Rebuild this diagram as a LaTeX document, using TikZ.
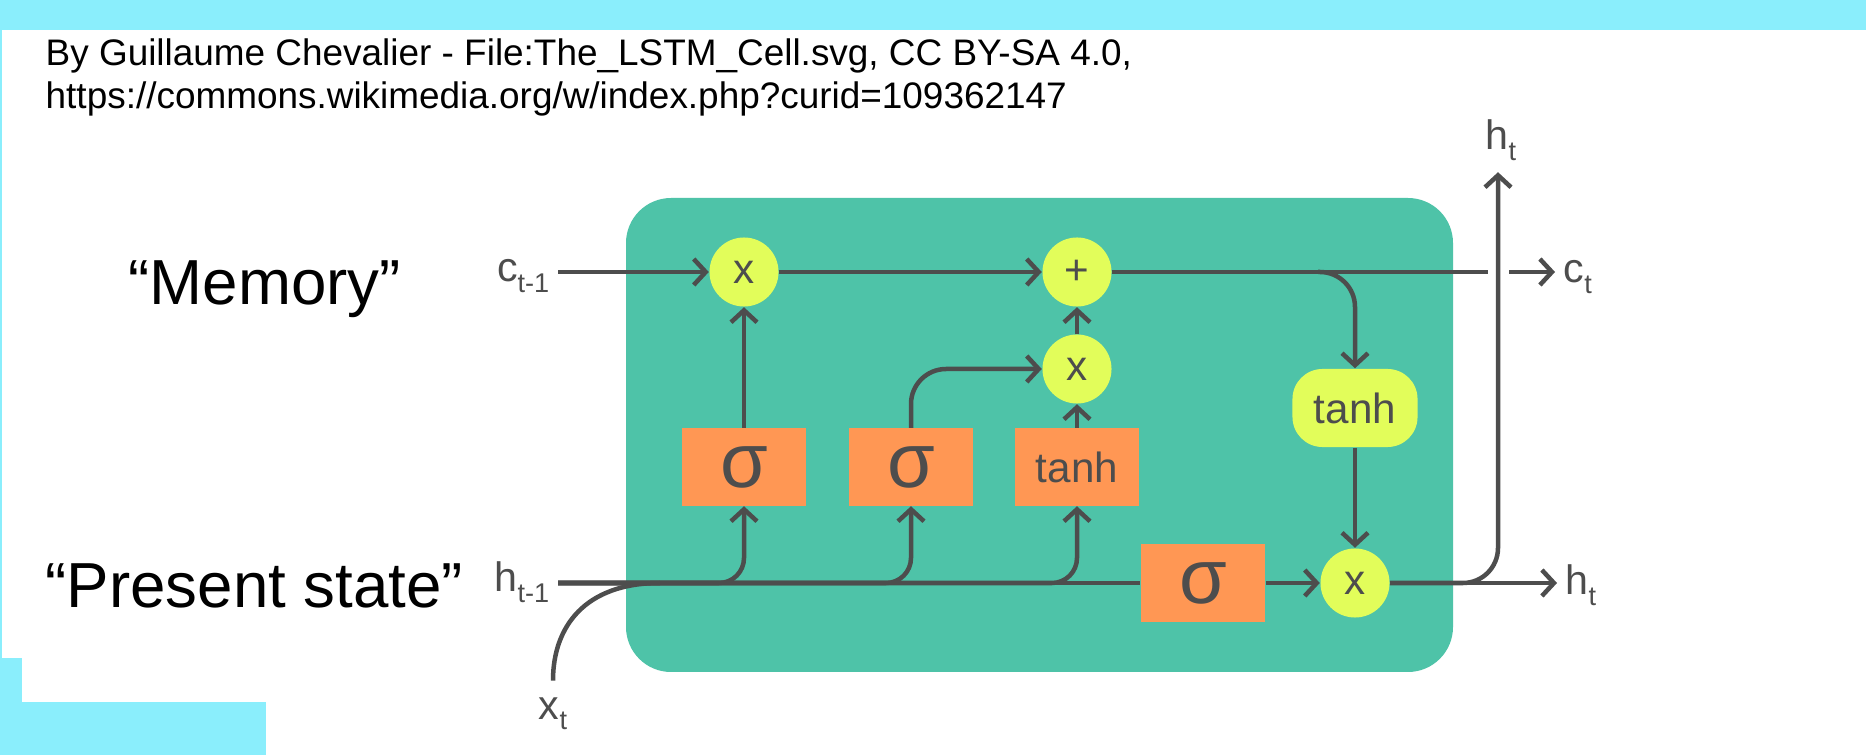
\documentclass[tikz,border=0pt]{standalone}
\usepackage{fontspec}
\setmainfont{Liberation Sans}
\usetikzlibrary{arrows.meta}

\definecolor{bandcyan}{RGB}{138,238,252}
\definecolor{cellteal}{RGB}{78,195,168}
\definecolor{gateorange}{RGB}{255,151,84}
\definecolor{opyellow}{RGB}{226,253,90}
\definecolor{wiregray}{RGB}{77,77,77}

\newcommand*{\picw}{1866}
\newcommand*{\pich}{755}
\newcommand*{\lsub}[1]{\raisebox{-0.25em}{\fontsize{7.7pt}{8pt}\selectfont #1}}

\begin{document}
\begin{tikzpicture}
[
	x=0.01cm, y=-0.01cm,
	>={Straight Barb[length=0.12cm,width=0.26cm]},
	wire/.style={draw=wiregray,line width=0.045cm},
	mult/.style={circle,fill=opyellow,text=wiregray,minimum size=0.69cm,inner sep=0pt,font=\fontsize{12pt}{12pt}\selectfont},
	gate/.style={rectangle,fill=gateorange,text=wiregray,minimum width=1.24cm,minimum height=0.77cm,inner sep=0pt,font=\fontsize{22pt}{22pt}\selectfont},
	squash/.style={rectangle,rounded corners=0.3cm,fill=opyellow,text=wiregray,minimum width=1.25cm,minimum height=0.78cm,inner sep=0pt,font=\fontsize{12pt}{12pt}\selectfont},
	lbl/.style={text=wiregray,inner sep=0pt,font=\fontsize{11.7pt}{12pt}\selectfont},
	credit/.style={anchor=base west,inner sep=0pt,font=\fontsize{10.5pt}{12pt}\selectfont},
	bigtext/.style={anchor=base west,inner sep=0pt,font=\fontsize{18.1pt}{20pt}\selectfont}
]

	% page and cyan bands
	\useasboundingbox (0,0) rectangle (\picw,\pich);
	\fill[white] (0,0) rectangle (\picw,\pich);
	\fill[bandcyan] (0,0) rectangle (\picw,30);
	\fill[bandcyan] (0,0) rectangle (2,\pich);
	\fill[bandcyan] (0,658) rectangle (22,\pich);
	\fill[bandcyan] (0,702) rectangle (266,\pich);

	\node[credit] (src) at (45,66) {By Guillaume Chevalier - File:The\_LSTM\_Cell.svg, CC BY-SA 4.0,};
	\node[credit] (url) at (45,109) {https://commons.wikimedia.org/w/index.php?curid=109362147};

	\node[bigtext] (memory) at (128,305) {“Memory”};
	\node[bigtext] (present) at (45,607) {“Present state”};

	% cell
	\fill[cellteal,rounded corners=0.45cm] (626,198) rectangle (1453,672);

	\node[mult] (forgetmul) at (744,272) {x};
	\node[mult] (cadd) at (1077,272) {+};
	\node[mult] (inmul) at (1077,369) {x};
	\node[gate] (sigf) at (744,467) {σ};
	\node[gate] (sigi) at (911,467) {σ};
	\node[gate,font=\fontsize{12pt}{12pt}\selectfont] (candtanh) at (1077,467) {tanh};
	\node[gate] (sigo) at (1203,583) {σ};
	\node[squash] (outtanh) at (1355,408) {tanh};
	\node[mult] (outmul) at (1355,583) {x};

	\node[lbl,anchor=base east] (cprev) at (550,282) {c\lsub{t-1}};
	\node[lbl,anchor=base east] (hprev) at (550,592) {h\lsub{t-1}};
	\node[lbl,anchor=base] (xin) at (553,719) {x\lsub{t}};
	\node[lbl,anchor=base] (htop) at (1501,150) {h\lsub{t}};
	\node[lbl,anchor=base west] (cout) at (1563,283) {c\lsub{t}};
	\node[lbl,anchor=base west] (hout) at (1565,595) {h\lsub{t}};

	\coordinate (cbranch) at (1318,272);
	\coordinate (cgapl) at (1488,272);
	\coordinate (cgapr) at (1509,272);
	\coordinate (hbend) at (1498,583);
	\coordinate (xjoin) at (660,583);

	% memory line
	\draw[wire,->,shorten <=0.08cm] (cprev.east |- forgetmul) -- (forgetmul);
	\draw[wire,->] (forgetmul) -- (cadd);
	\draw[wire] (cadd) -- (cgapl);
	\draw[wire,->,shorten >=0.08cm] (cgapr) -- (cout.west |- cadd);
	\draw[wire,->,rounded corners=0.35cm] (cbranch) -- (cbranch -| outtanh) -- (outtanh);

	% gates
	\draw[wire,->] (sigf) -- (forgetmul);
	\draw[wire,->,rounded corners=0.35cm] (sigi) |- (inmul);
	\draw[wire,->] (candtanh) -- (inmul);
	\draw[wire,->] (inmul) -- (cadd);
	\draw[wire,->] (outtanh) -- (outmul);

	% present state line
	\draw[wire,shorten <=0.08cm] (hprev.east |- sigo) -- (sigo);
	\foreach \g in {sigf,sigi,candtanh} {
		\draw[wire,->,rounded corners=0.25cm,shorten <=0.08cm] (hprev.east |- sigo) -- (\g |- sigo) -- (\g);
	}
	\draw[wire,shorten <=0.16cm] (xin.north) .. controls +(0,-70) and +(-75,0) .. (xjoin);

	% output
	\draw[wire,->] (sigo) -- (outmul);
	\draw[wire,->,shorten >=0.08cm] (outmul) -- (hout.west |- outmul);
	\draw[wire,->,rounded corners=0.35cm,shorten >=0.11cm] (outmul) -- (hbend) -- (hbend |- htop.south);

\end{tikzpicture}
\end{document}
